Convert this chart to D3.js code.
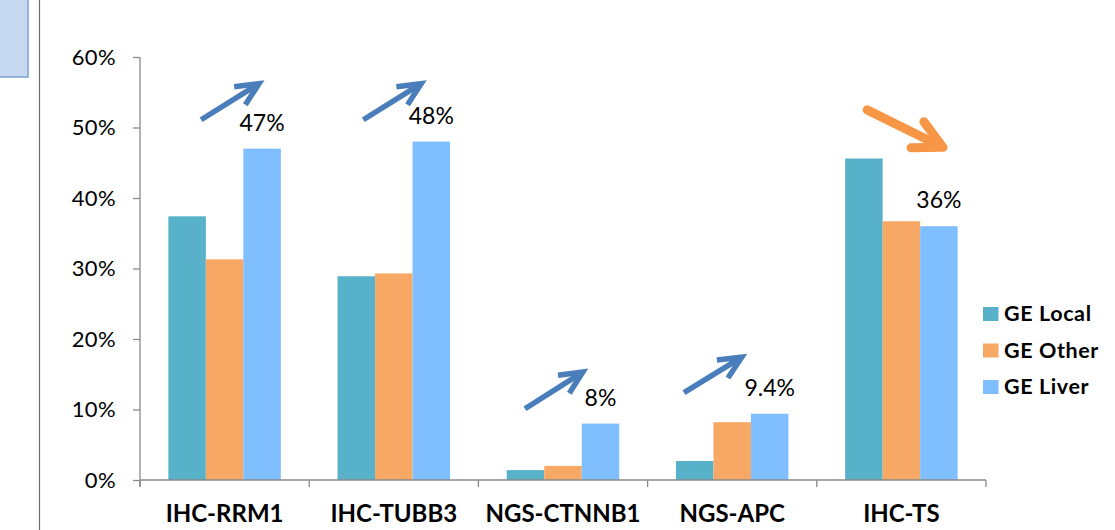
<!DOCTYPE html>
<html>
<head>
<meta charset="utf-8">
<script src="https://cdn.jsdelivr.net/npm/d3@7"></script>
<style>
  html, body { margin: 0; padding: 0; background: #fff; }
  svg { display: block; font-family: Lato, "Open Sans", sans-serif; }
</style>
</head>
<body>
<svg id="chart" width="1115" height="530"></svg>
<script>
// Biomarker categories and the three GE groups (percent of patients)
const categories = ["IHC-RRM1", "IHC-TUBB3", "NGS-CTNNB1", "NGS-APC", "IHC-TS"];
const seriesNames = ["GE Local", "GE Other", "GE Liver"];
const geLocal = [37.4, 28.9, 1.4, 2.7, 45.6];
const geOther = [31.3, 29.3, 2.0, 8.2, 36.7];
const geLiver = [47, 48, 8, 9.4, 36];
const liverLabels = ["47%", "48%", "8%", "9.4%", "36%"];
const yTicks = [0, 10, 20, 30, 40, 50, 60];
// Trend arrows: direction and the value span they cover, per category
const trendArrows = [
  { category: "IHC-RRM1",   dir: "up",   from: 51.1, to: 56.7, shiftFrom: -61,  shiftTo: 2.4 },
  { category: "IHC-TUBB3",  dir: "up",   from: 51.1, to: 56.7, shiftFrom: -68,  shiftTo: -4.6 },
  { category: "NGS-CTNNB1", dir: "up",   from: 10.1, to: 15.8, shiftFrom: -75.5, shiftTo: -12.2 },
  { category: "NGS-APC",    dir: "up",   from: 12.4, to: 17.9, shiftFrom: -85.7, shiftTo: -22.4 },
  { category: "IHC-TS",     dir: "down", from: 52.5, to: 46.9, shiftFrom: -71.8, shiftTo: 8.2 }
];

const colors = ["#57b2c9", "#f8a865", "#80bfff"];
const seriesValues = [geLocal, geOther, geLiver];

const svg = d3.select("#chart");

// Side panel decoration at the left edge
svg.append("rect").attr("x", -2).attr("y", -2).attr("width", 30).attr("height", 79)
  .attr("fill", "#c6d9f1").attr("stroke", "#7ba0d4").attr("stroke-width", 1.5);
svg.append("line").attr("x1", 39.5).attr("x2", 39.5).attr("y1", 0).attr("y2", 530)
  .attr("stroke", "#6d6d6d").attr("stroke-width", 1.2);

const x0 = d3.scaleBand().domain(categories).range([140, 986]).paddingInner(0).paddingOuter(0);
const x1 = d3.scaleBand().domain(seriesNames).range([0, x0.bandwidth()]).paddingInner(0).paddingOuter(0.756);
const y = d3.scaleLinear().domain([0, 60]).range([480, 57]);

const axisColor = "#8a8a8a";

// Y axis
const yAxis = svg.append("g").attr("transform", "translate(140,0)")
  .call(d3.axisLeft(y).tickValues(yTicks).tickSize(7).tickPadding(17).tickFormat(d => d + "%"));
yAxis.select(".domain").attr("stroke", axisColor).attr("stroke-width", 1.3).attr("d", "M0,57V487");
yAxis.selectAll(".tick line").attr("stroke", axisColor).attr("stroke-width", 1.3);
yAxis.selectAll(".tick text").attr("fill", "#000").style("font-size", "22px")
  .style("font-family", "Lato, sans-serif").style("letter-spacing", "0.4px");

// Bars
const groups = svg.append("g").selectAll("g").data(categories).join("g")
  .attr("transform", d => `translate(${x0(d)},0)`);
groups.selectAll("rect")
  .data((c, i) => seriesNames.map((s, k) => ({ s, k, v: seriesValues[k][i] })))
  .join("rect")
  .attr("x", d => x1(d.s))
  .attr("width", x1.bandwidth())
  .attr("y", d => y(d.v))
  .attr("height", d => y(0) - y(d.v))
  .attr("fill", d => colors[d.k]);

// X axis with ticks between categories
const xAxisG = svg.append("g");
xAxisG.append("line").attr("x1", 140).attr("x2", 986).attr("y1", 480).attr("y2", 480)
  .attr("stroke", axisColor).attr("stroke-width", 1.3);
const boundaries = categories.map(c => x0(c)).concat([x0.range()[1]]);
xAxisG.selectAll("line.tk").data(boundaries).join("line").attr("class", "tk")
  .attr("x1", d => d).attr("x2", d => d).attr("y1", 480).attr("y2", 487)
  .attr("stroke", axisColor).attr("stroke-width", 1.3);
xAxisG.selectAll("text").data(categories).join("text")
  .attr("x", d => x0(d) + x0.bandwidth() / 2)
  .attr("y", 522)
  .attr("text-anchor", "middle")
  .style("font-size", "24px").style("font-weight", "bold").attr("fill", "#000")
  .text(d => d);

// Value labels over the GE Liver bars
svg.append("g").selectAll("text").data(categories).join("text")
  .attr("x", d => x0(d) + x1("GE Liver") + x1.bandwidth() / 2)
  .attr("y", (d, i) => y(geLiver[i]) - 18)
  .attr("text-anchor", "middle")
  .style("font-size", "23px").attr("fill", "#000")
  .text((d, i) => liverLabels[i]);

// Trend arrows (open chevron heads)
const arrowG = svg.append("g").attr("fill", "none");
trendArrows.forEach(a => {
  const cx = x0(a.category) + x1("GE Liver") + x1.bandwidth() / 2;
  const up = a.dir === "up";
  const color = up ? "#4a7ebb" : "#f79646";
  const sw = up ? 5.5 : 9;
  const spread = (up ? 25 : 27) * Math.PI / 180;
  const L = up ? 25 : 32;
  const xa = cx + a.shiftFrom, ya = y(a.from);
  const xt = cx + a.shiftTo, yt = y(a.to);
  const ang = Math.atan2(yt - ya, xt - xa);
  // pull the centreline tip back so the stroked outline ends at the tip
  const back = up ? (sw / 2) / Math.sin(spread) : sw / 2;
  const xb = xt - back * Math.cos(ang), yb = yt - back * Math.sin(ang);
  const p1 = [xb - L * Math.cos(ang - spread), yb - L * Math.sin(ang - spread)];
  const p2 = [xb - L * Math.cos(ang + spread), yb - L * Math.sin(ang + spread)];
  const cap = up ? "butt" : "round";
  arrowG.append("line").attr("x1", xa).attr("y1", ya)
    .attr("x2", xb - Math.cos(ang) * sw * 0.6).attr("y2", yb - Math.sin(ang) * sw * 0.6)
    .attr("stroke", color).attr("stroke-width", sw).attr("stroke-linecap", cap);
  arrowG.append("path")
    .attr("d", `M${p1[0]},${p1[1]}L${xb},${yb}L${p2[0]},${p2[1]}`)
    .attr("stroke", color).attr("stroke-width", sw)
    .attr("stroke-linecap", cap).attr("stroke-linejoin", up ? "miter" : "round").attr("stroke-miterlimit", 10);
});

// Legend
const legend = svg.append("g").selectAll("g").data(seriesNames).join("g")
  .attr("transform", (d, i) => `translate(983,${307 + i * 36.5})`);
legend.append("rect").attr("width", 15.5).attr("height", 14).attr("fill", (d, i) => colors[i]);
legend.append("text").attr("x", 21).attr("y", 14)
  .style("font-size", "21.5px").style("font-weight", "bold").style("letter-spacing", "0.6px").attr("fill", "#000")
  .text(d => d);
</script>
</body>
</html>
